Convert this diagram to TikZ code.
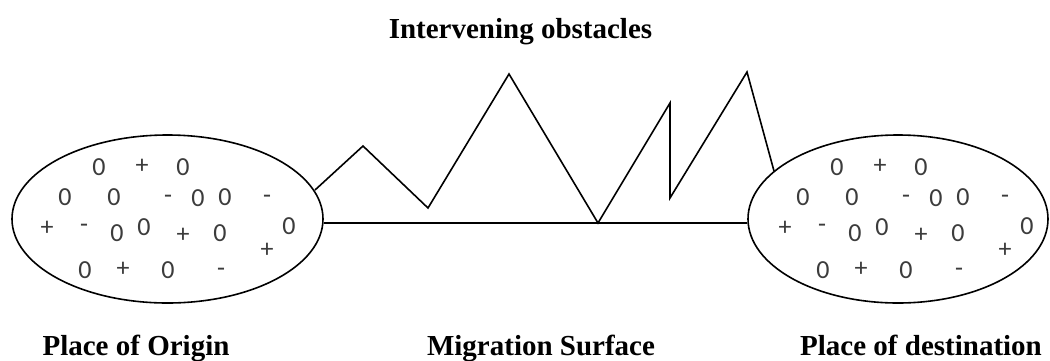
\documentclass[tikz,border=0pt]{standalone}
\usepackage{fontspec}
\setmainfont{Liberation Serif}
\newfontfamily\symfont{Carlito}
\usetikzlibrary{shapes.geometric}
\definecolor{symgray}{RGB}{60,60,60}
\newcommand\chargeset[2]{%
  \foreach \t/\px/\py [count=\i] in {0/99/167, +/142/166, 0/183/167,
      0/65/197, 0/114/197, -/168/199, 0/198/198, 0/225/197, -/267/199,
      +/47/228, -/84/228, 0/117/233, 0/144/227, +/183/235, 0/220/233, +/267/250, 0/289/226,
      0/85/270, +/123/269, 0/168/270, -/221/272}
    {\node[chg] (#1\i) at (\px+#2,\py) {\t};}%
}
\begin{document}
\begin{tikzpicture}[x=1pt,y=-1pt, line width=1.6pt, line join=miter,
  region/.style={draw, ellipse, inner sep=0pt, minimum height=168pt},
  chg/.style={inner sep=0pt, text=symgray, font=\symfont\fontsize{26}{26}\selectfont},
  lbl/.style={font=\bfseries\fontsize{29}{29}\selectfont, anchor=base, inner sep=0pt}]
\fill[white] (0,0) rectangle (1050,360);
\path[use as bounding box] (0,0) rectangle (1050,360);

\node[region, minimum width=311pt] (L) at (167.5,219) {};
\node[region, minimum width=300pt] (R) at (898,219) {};

\chargeset{a}{0}
\chargeset{b}{738}

\coordinate (m0) at (315,190);
\coordinate (m1) at (363,146);
\coordinate (m2) at (428,208);
\coordinate (m3) at (509,74);
\coordinate (m4) at (598,223);
\coordinate (m5) at (670,103);
\coordinate (m6) at (670,198);
\coordinate (m7) at (747,72);
\coordinate (m8) at (774,171);

\draw ([yshift=-4pt]L.east) -- ([yshift=-4pt]R.west);
\draw (m0) -- (m1) -- (m2) -- (m3) -- (m4) -- (m5) -- (m6) -- (m7) -- (m8);

\node[lbl] (top) at (520.5,38) {Intervening obstacles};
\node[lbl] (o) at (136,355) {Place of Origin};
\node[lbl] (m) at (541,355) {Migration Surface};
\node[lbl] (d) at (921,355) {Place of destination};
\end{tikzpicture}
\end{document}
